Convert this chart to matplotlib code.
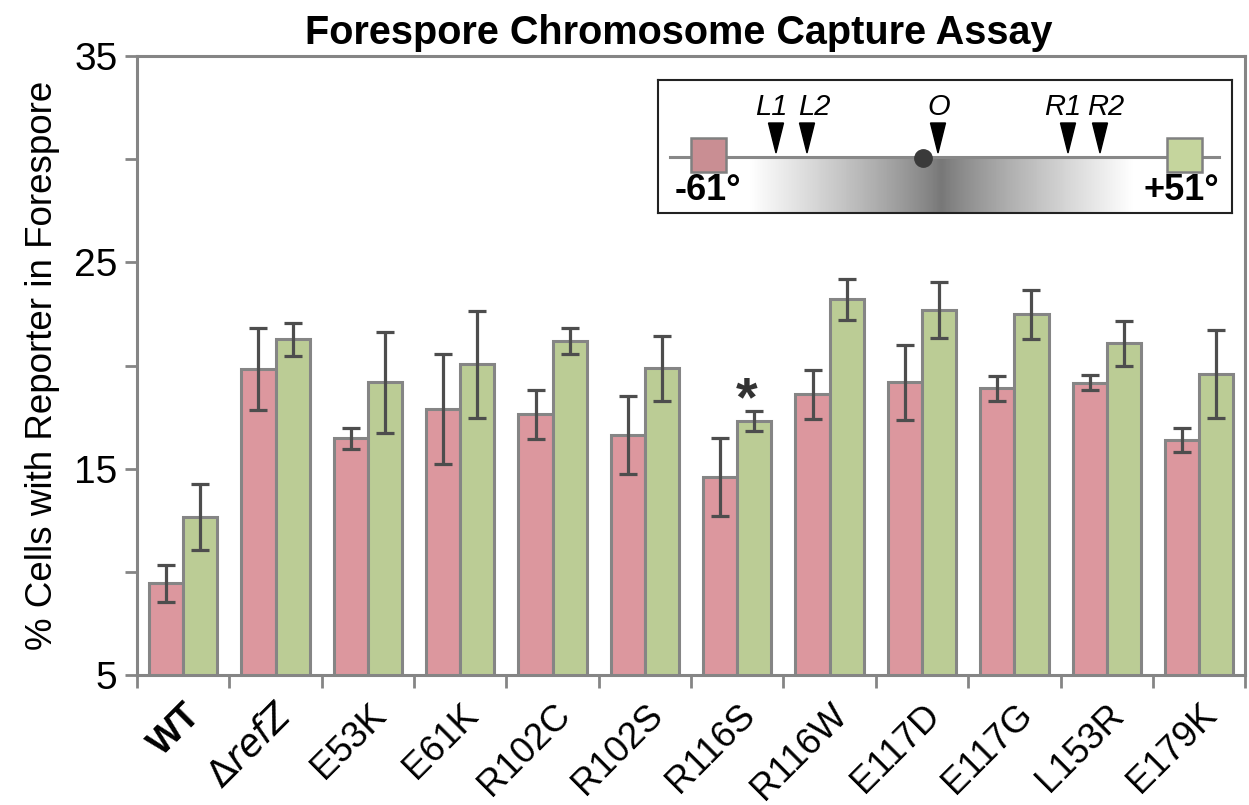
import numpy as np
import matplotlib
matplotlib.use("Agg")
import matplotlib.pyplot as plt
from matplotlib.patches import Rectangle, Polygon
from matplotlib.transforms import ScaledTranslation

strains = ["WT", r"$\Delta$$\it{refZ}$", "E53K", "E61K", "R102C", "R102S",
           "R116S", "R116W", "E117D", "E117G", "L153R", "E179K"]
left_vals = [9.44, 19.83, 16.47, 17.89, 17.64, 16.63, 14.61, 18.61, 19.19, 18.90, 19.17, 16.39]
left_err = [0.9, 2.0, 0.5, 2.67, 1.18, 1.9, 1.9, 1.18, 1.82, 0.6, 0.36, 0.57]
right_vals = [12.67, 21.27, 19.19, 20.06, 21.19, 19.87, 17.31, 23.21, 22.69, 22.48, 21.08, 19.58]
right_err = [1.6, 0.8, 2.45, 2.6, 0.62, 1.57, 0.47, 1.0, 1.35, 1.18, 1.1, 2.13]
star_index = 6

red = "#dc979e"
green = "#bbcc95"
edge = "#858585"
errc = "#4d4d4d"

plt.rcParams['font.family'] = ['Liberation Sans', 'DejaVu Sans']

fig = plt.figure(figsize=(12.49, 8.05), dpi=100)
ax = fig.add_axes([0.1097, 0.1615, 0.8873, 0.7689])

x = np.arange(len(strains))
w = 0.37
ax.bar(x - w / 2, left_vals, w, bottom=0, color=red, edgecolor=edge, linewidth=2.2, zorder=2)
ax.bar(x + w / 2, right_vals, w, bottom=0, color=green, edgecolor=edge, linewidth=2.2, zorder=2)
ax.errorbar(x - w / 2, left_vals, yerr=left_err, fmt="none", ecolor=errc,
            elinewidth=2.3, capsize=6.5, capthick=2.3, zorder=3)
ax.errorbar(x + w / 2, right_vals, yerr=right_err, fmt="none", ecolor=errc,
            elinewidth=2.3, capsize=6.5, capthick=2.3, zorder=3)
ax.text(star_index + w / 2 - 0.08, right_vals[star_index] + right_err[star_index] + 0.5, "*",
        ha="center", va="center", fontsize=40, fontweight="bold", color="#333333")

ax.set_xlim(-0.5, len(strains) - 0.5)
ax.set_ylim(5, 35)
for s in ax.spines.values():
    s.set_color(edge)
    s.set_linewidth(2.2)

ax.set_yticks([5, 15, 25, 35])
ax.set_yticks([10, 20, 30], minor=True)
ax.tick_params(axis="y", which="both", direction="out", length=9, width=2,
               color=edge, labelsize=28, pad=5)
ax.set_xticks(x)
ax.set_xticklabels(strains, rotation=45, ha="right", va="top",
                   rotation_mode="anchor", fontsize=26.5)
ax.get_xticklabels()[0].set_fontweight("bold")
for i, lab in enumerate(ax.get_xticklabels()):
    dy = 17 if strains[i] == "R116W" else 0   # that one sits higher in the figure
    lab.set_transform(lab.get_transform() + ScaledTranslation(17 / 72, dy / 72, fig.dpi_scale_trans))
ax.tick_params(axis="x", which="major", length=0, pad=16)
ax.set_xticks(np.arange(len(strains) + 1) - 0.5, minor=True)
ax.tick_params(axis="x", which="minor", direction="out", length=9, width=2, color=edge)

ax.set_ylabel("% Cells with Reporter in Forespore", fontsize=26.5, labelpad=10)
ax.set_title("Forespore Chromosome Capture Assay", fontsize=28.5, fontweight="bold",
             pad=9, x=0.489)

# inset schematic
ins = fig.add_axes([658 / 1249, 1 - 213 / 805, 574 / 1249, 133 / 805])
ins.set_xlim(0, 574)
ins.set_ylim(133, 0)
ins.set_xticks([])
ins.set_yticks([])
for s in ins.spines.values():
    s.set_color("#222222")
    s.set_linewidth(1.5)

grad = np.concatenate([np.linspace(1, 0, 120), np.linspace(0, 1, 120)]) ** 0.85
grad = 0.47 + 0.53 * grad
ins.imshow(np.tile(grad, (2, 1)), cmap="gray", vmin=0, vmax=1, aspect="auto",
           extent=[90, 477, 132, 79], zorder=1, interpolation="bilinear")
ins.plot([12, 561], [77, 77], color="#888888", lw=2.2, zorder=2)
ins.add_patch(Rectangle((33, 58), 35, 34, facecolor="#c98e93", edgecolor="#808080", lw=1.8, zorder=3))
ins.add_patch(Rectangle((509, 58), 35, 34, facecolor="#c5d59d", edgecolor="#808080", lw=1.8, zorder=3))
ins.plot([265], [78], "o", color="#3a3a3a", markersize=12.5, zorder=4)

marks = ["L1", "L2", "O", "R1", "R2"]
mark_x = [118, 149, 280, 410, 442]
label_x = [113, 156, 281, 405, 448]
for lab, mx, lx in zip(marks, mark_x, label_x):
    ins.add_patch(Polygon([[mx - 7.5, 43], [mx + 7.5, 43], [mx, 73]], closed=True,
                          color="black", zorder=4))
    ins.text(lx, 35, lab, ha="center", va="baseline", fontsize=21, style="italic")
ins.text(17, 110, "-61°", ha="left", va="center", fontsize=26, fontweight="bold")
ins.text(561, 110, "+51°", ha="right", va="center", fontsize=26, fontweight="bold")

fig.savefig("out.png", dpi=100)
